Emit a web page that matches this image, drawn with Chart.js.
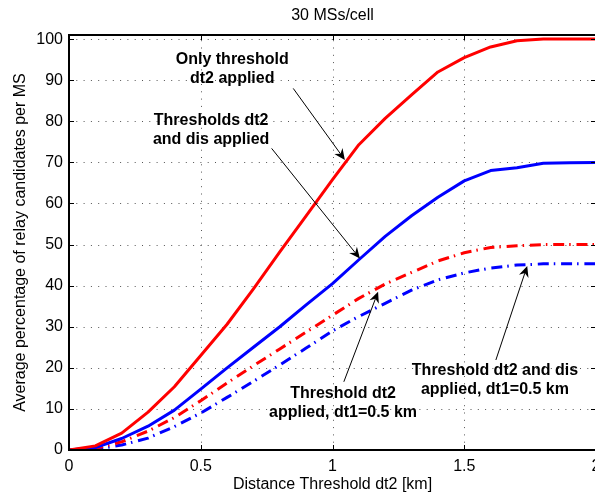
<!DOCTYPE html>
<html>
<head>
<meta charset="utf-8">
<script src="https://cdn.jsdelivr.net/npm/chart.js@4.4.1/dist/chart.umd.min.js"></script>
<style>
html,body{margin:0;padding:0;background:#fff;overflow:hidden;}
#wrap{width:595px;height:494px;overflow:hidden;position:relative;background:#fff;}
canvas{display:block;}
</style>
</head>
<body>
<div id="wrap"><canvas id="c" width="620" height="494"></canvas></div>
<script>
// ---- data ----
const xValues = [0, 0.1, 0.2, 0.3, 0.4, 0.5, 0.6, 0.7, 0.8, 0.9, 1.0, 1.1, 1.2, 1.3, 1.4, 1.5, 1.6, 1.7, 1.8, 1.9, 2.0];
const onlyDt2 = [0, 1.0, 4.1, 9.2, 15.4, 23.0, 30.6, 39.2, 48.2, 57.0, 65.8, 74.3, 80.7, 86.4, 92.0, 95.5, 98.1, 99.6, 100, 100, 100];
const dt2AndDis = [0, 0.6, 2.8, 5.8, 9.7, 14.8, 20.0, 25.0, 30.0, 35.3, 40.5, 46.3, 52.0, 57.0, 61.5, 65.5, 68.0, 68.7, 69.8, 69.9, 70.0];
const dt2Dt1 = [0, 0.4, 2.0, 4.6, 7.9, 12.0, 16.3, 20.5, 24.6, 28.7, 32.8, 36.9, 40.4, 43.2, 46.0, 48.0, 49.3, 49.7, 50, 50, 50];
const dt2DisDt1 = [0, 0.2, 1.2, 2.9, 5.7, 9.0, 12.8, 16.7, 20.7, 24.8, 29.0, 32.5, 35.7, 38.9, 41.4, 43.1, 44.3, 45.0, 45.3, 45.3, 45.3];

const xTickValues = [0, 0.5, 1, 1.5, 2];
const xTickLabels = ['0', '0.5', '1', '1.5', '2'];
const yTickValues = [0, 10, 20, 30, 40, 50, 60, 70, 80, 90, 100];
const yTickLabels = ['0', '10', '20', '30', '40', '50', '60', '70', '80', '90', '100'];

const titleText = '30 MSs/cell';
const xTitle = 'Distance Threshold dt2 [km]';
const yTitle = 'Average percentage of relay candidates per MS';

// annotations (data coordinates)
const annLines = [
  ['Only threshold', 'dt2 applied'],
  ['Thresholds dt2', 'and dis applied'],
  ['Threshold dt2', 'applied, dt1=0.5 km'],
  ['Threshold dt2 and dis', 'applied, dt1=0.5 km']
];
const annX = [0.6195, 0.5395, 1.040, 1.6165];
const annY = [94.9, 80.1, 13.8, 19.3];
const arrowFromX = [0.851, 0.769, 1.043, 1.620];
const arrowFromY = [88.0, 73.4, 16.6, 21.9];
const arrowToX = [1.047, 1.104, 1.173, 1.739];
const arrowToY = [70.6, 46.6, 38.5, 44.8];

// ---- chart ----
const FONT = "'Liberation Sans', Arial, Helvetica, sans-serif";
const pts = ys => xValues.map((x, i) => ({x: x, y: ys[i]}));
const DASHDOT = [11, 5, 1.5, 5.8];

const gridPlugin = {
  id: 'dotgrid',
  beforeDatasetsDraw(chart) {
    const ctx = chart.ctx, a = chart.chartArea, xs = chart.scales.x, ys = chart.scales.y;
    ctx.save();
    ctx.strokeStyle = '#555';
    ctx.lineWidth = 1;
    ctx.setLineDash([1, 6.3]);
    ctx.beginPath();
    xTickValues.forEach(v => {
      const px = Math.round(xs.getPixelForValue(v)) + 0.5;
      ctx.moveTo(px, a.bottom); ctx.lineTo(px, a.top);
    });
    yTickValues.forEach(v => {
      const py = Math.round(ys.getPixelForValue(v)) + 0.5;
      ctx.moveTo(a.left, py); ctx.lineTo(a.right, py);
    });
    ctx.stroke();
    ctx.restore();
  }
};

const decor = {
  id: 'decor',
  afterDraw(chart) {
    const ctx = chart.ctx, a = chart.chartArea, xs = chart.scales.x, ys = chart.scales.y;
    ctx.save();
    // inward tick marks
    ctx.strokeStyle = '#000';
    ctx.lineWidth = 1;
    ctx.beginPath();
    xTickValues.forEach(v => {
      const px = Math.round(xs.getPixelForValue(v)) + 0.5;
      ctx.moveTo(px, a.bottom); ctx.lineTo(px, a.bottom - 5);
      ctx.moveTo(px, a.top); ctx.lineTo(px, a.top + 5);
    });
    yTickValues.forEach(v => {
      const py = Math.round(ys.getPixelForValue(v)) + 0.5;
      ctx.moveTo(a.left, py); ctx.lineTo(a.left + 5, py);
      ctx.moveTo(a.right, py); ctx.lineTo(a.right - 5, py);
    });
    ctx.stroke();
    // box
    ctx.lineWidth = 2;
    ctx.strokeRect(a.left, a.top, a.right - a.left, a.bottom - a.top);
    // annotation texts
    ctx.fillStyle = '#000';
    ctx.font = 'bold 16px ' + FONT;
    ctx.textAlign = 'center';
    ctx.textBaseline = 'middle';
    annLines.forEach((lines, i) => {
      const cx = xs.getPixelForValue(annX[i]);
      const cy = ys.getPixelForValue(annY[i]);
      lines.forEach((t, j) => ctx.fillText(t, cx, cy + j * 18.8));
    });
    // arrows
    annLines.forEach((_, i) => {
      const x0 = xs.getPixelForValue(arrowFromX[i]), y0 = ys.getPixelForValue(arrowFromY[i]);
      const x1 = xs.getPixelForValue(arrowToX[i]), y1 = ys.getPixelForValue(arrowToY[i]);
      const dx = x1 - x0, dy = y1 - y0, len = Math.hypot(dx, dy);
      const ux = dx / len, uy = dy / len, nx = -uy, ny = ux;
      const L = 11, W = 5, N = 7.5;
      ctx.lineWidth = 1;
      ctx.beginPath();
      ctx.moveTo(x0, y0);
      ctx.lineTo(x1 - ux * N, y1 - uy * N);
      ctx.stroke();
      ctx.beginPath();
      ctx.moveTo(x1, y1);
      ctx.lineTo(x1 - ux * L + nx * W, y1 - uy * L + ny * W);
      ctx.lineTo(x1 - ux * N, y1 - uy * N);
      ctx.lineTo(x1 - ux * L - nx * W, y1 - uy * L - ny * W);
      ctx.closePath();
      ctx.fill();
    });
    ctx.restore();
  }
};

new Chart(document.getElementById('c').getContext('2d'), {
  type: 'line',
  data: {
    datasets: [
      {label: 'Only threshold dt2 applied', data: pts(onlyDt2), borderColor: '#ff0000', borderWidth: 3},
      {label: 'Thresholds dt2 and dis applied', data: pts(dt2AndDis), borderColor: '#0000ff', borderWidth: 3},
      {label: 'Threshold dt2 applied, dt1=0.5 km', data: pts(dt2Dt1), borderColor: '#ff0000', borderWidth: 3, borderDash: DASHDOT},
      {label: 'Threshold dt2 and dis applied, dt1=0.5 km', data: pts(dt2DisDt1), borderColor: '#0000ff', borderWidth: 3, borderDash: DASHDOT}
    ]
  },
  options: {
    responsive: false,
    animation: false,
    devicePixelRatio: 1,
    layout: {padding: {left: 0, right: 24, top: 0, bottom: 0}},
    elements: {point: {radius: 0}, line: {tension: 0, fill: false, borderJoinStyle: 'round'}},
    plugins: {
      legend: {display: false},
      tooltip: {enabled: false},
      title: {
        display: true, text: titleText, fullSize: false, color: '#000',
        font: {family: FONT, size: 16, weight: 'normal'},
        padding: {top: 6.4, bottom: 9.4}
      }
    },
    scales: {
      x: {
        type: 'linear', min: 0, max: 2,
        afterFit(s) { s.height = 44; },
        afterBuildTicks(s) { s.ticks = xTickValues.map(v => ({value: v})); },
        ticks: {
          color: '#000', padding: 7, maxRotation: 0, autoSkip: false,
          font: {family: FONT, size: 16},
          callback: v => xTickLabels[xTickValues.indexOf(v)]
        },
        grid: {display: false, drawTicks: false},
        border: {display: false},
        title: {display: true, text: xTitle, color: '#000', font: {family: FONT, size: 16}, padding: {top: 0, bottom: 0}}
      },
      y: {
        type: 'linear', min: 0, max: 101,
        afterFit(s) { s.width = 69; },
        afterBuildTicks(s) { s.ticks = yTickValues.map(v => ({value: v})); },
        ticks: {
          color: '#000', padding: 6, autoSkip: false,
          font: {family: FONT, size: 16},
          callback: v => yTickLabels[yTickValues.indexOf(v)]
        },
        grid: {display: false, drawTicks: false},
        border: {display: false},
        title: {display: true, text: yTitle, color: '#000', font: {family: FONT, size: 16}, padding: {top: 11.4, bottom: 0}}
      }
    }
  },
  plugins: [gridPlugin, decor]
});
</script>
</body>
</html>
